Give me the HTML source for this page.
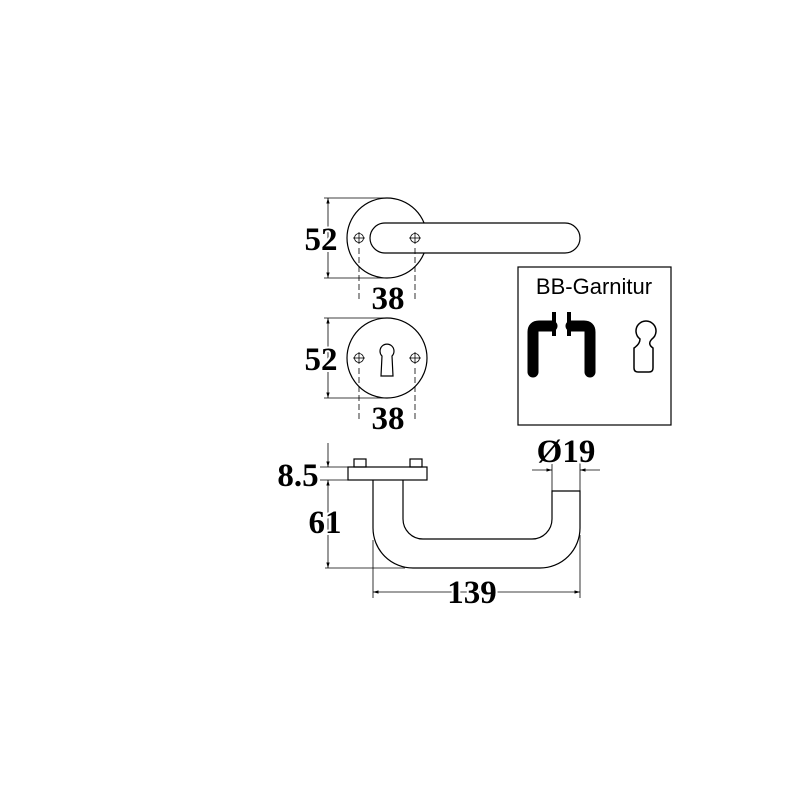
<!DOCTYPE html>
<html><head><style>body{margin:0;background:#fff}svg{display:block}</style></head><body>
<svg width="800" height="800" viewBox="0 0 800 800" xmlns="http://www.w3.org/2000/svg">
<defs>
<marker id="a" viewBox="0 0 10 10" refX="10" refY="5" markerWidth="7" markerHeight="7" orient="auto-start-reverse"><path d="M0,2 L10,5 L0,8 z" fill="#000"/></marker>
<g id="scr"><circle r="4.5" fill="none" stroke="#000" stroke-width="0.8"/><line x1="-6" y1="0" x2="6" y2="0" stroke="#000" stroke-width="0.8"/><line x1="0" y1="-6" x2="0" y2="6" stroke="#000" stroke-width="0.8"/></g>
</defs>
<g fill="none" stroke="#000" stroke-width="1.2">
<circle cx="387" cy="238" r="40"/>
<rect x="370" y="223" width="210" height="30" rx="15" fill="#fff"/>
<line x1="324" y1="198" x2="387" y2="198" stroke-width="0.8"/>
<line x1="324" y1="278" x2="387" y2="278" stroke-width="0.8"/>
<line x1="328" y1="198" x2="328" y2="278" stroke-width="0.8" marker-start="url(#a)" marker-end="url(#a)"/>
<line x1="359" y1="248" x2="359" y2="302" stroke-width="0.8" stroke-dasharray="6,3"/>
<line x1="415" y1="248" x2="415" y2="302" stroke-width="0.8" stroke-dasharray="6,3"/>
<circle cx="387" cy="358" r="40"/>
<path d="M382,356 A7,7 0 1 1 392,356 L393,376 L381,376 Z"/>
<line x1="324" y1="318" x2="387" y2="318" stroke-width="0.8"/>
<line x1="324" y1="398" x2="387" y2="398" stroke-width="0.8"/>
<line x1="328" y1="318" x2="328" y2="398" stroke-width="0.8" marker-start="url(#a)" marker-end="url(#a)"/>
<line x1="359" y1="368" x2="359" y2="422" stroke-width="0.8" stroke-dasharray="6,3"/>
<line x1="415" y1="368" x2="415" y2="422" stroke-width="0.8" stroke-dasharray="6,3"/>
<rect x="348" y="467" width="79" height="13"/>
<rect x="354" y="459" width="12" height="8"/>
<rect x="410" y="459" width="12" height="8"/>
<path d="M373,480 L373,528 A40,40 0 0 0 413,568 L540,568 A40,40 0 0 0 580,528 L580,491 L552,491 L552,519 A20,20 0 0 1 532,539 L423,539 A20,20 0 0 1 403,519 L403,480"/>
<line x1="320" y1="467" x2="348" y2="467" stroke-width="0.8"/>
<line x1="320" y1="480" x2="348" y2="480" stroke-width="0.8"/>
<line x1="325" y1="568" x2="405" y2="568" stroke-width="0.8"/>
<line x1="328" y1="443" x2="328" y2="467" stroke-width="0.8" marker-end="url(#a)"/>
<line x1="328" y1="568" x2="328" y2="480" stroke-width="0.8" marker-start="url(#a)" marker-end="url(#a)"/>
<line x1="373" y1="540" x2="373" y2="598" stroke-width="0.8"/>
<line x1="580" y1="535" x2="580" y2="598" stroke-width="0.8"/>
<line x1="373" y1="592" x2="580" y2="592" stroke-width="0.8" marker-start="url(#a)" marker-end="url(#a)"/>
<line x1="552" y1="462" x2="552" y2="491" stroke-width="0.8"/>
<line x1="580" y1="462" x2="580" y2="491" stroke-width="0.8"/>
<line x1="532" y1="470" x2="552" y2="470" stroke-width="0.8" marker-end="url(#a)"/>
<line x1="600" y1="470" x2="580" y2="470" stroke-width="0.8" marker-end="url(#a)"/>
<rect x="518" y="267" width="153" height="158"/>
<path d="M640,339 A10,10 0 1 1 652,339 Q647,344 653,348 L653,368 Q653,372 649,372 L638,372 Q634,372 634,368 L634,348 Q640,344 640,339 Z" stroke-width="1.5"/>
</g>
<use href="#scr" x="359" y="238"/><use href="#scr" x="415" y="238"/>
<use href="#scr" x="359" y="358"/><use href="#scr" x="415" y="358"/>
<g stroke="#000" stroke-width="11" stroke-linecap="round" stroke-linejoin="round" fill="none">
<path d="M533,372 L533,332 Q533,326 539,326 L552,326"/>
<path d="M590,372 L590,332 Q590,326 584,326 L571,326"/>
</g>
<rect x="552" y="312" width="4" height="24" fill="#000"/>
<rect x="567" y="312" width="4" height="24" fill="#000"/>
<text x="594" y="294" font-family="Liberation Sans, sans-serif" font-size="22" text-anchor="middle">BB-Garnitur</text>
<g font-family="Liberation Serif, serif" font-weight="bold" font-size="33" text-anchor="middle" paint-order="stroke" stroke="#fff" stroke-width="4">
<text x="321" y="250">52</text>
<text x="388" y="309">38</text>
<text x="321" y="370">52</text>
<text x="388" y="429">38</text>
<text x="298" y="486">8.5</text>
<text x="325" y="533">61</text>
<text x="472" y="603">139</text>
<text x="566" y="462">Ø19</text>
</g>
</svg>
</body></html>
